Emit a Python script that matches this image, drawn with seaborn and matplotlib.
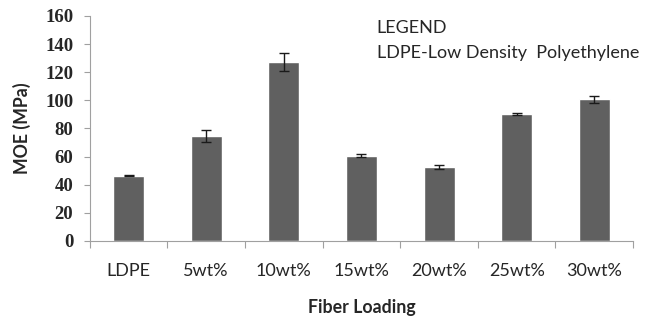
import matplotlib
matplotlib.use("Agg")
import matplotlib.pyplot as plt
import seaborn as sns
import pandas as pd
import numpy as np
from matplotlib.ticker import FixedLocator

categories = ["LDPE", "5wt%", "10wt%", "15wt%", "20wt%", "25wt%", "30wt%"]
moe = [46.4, 74.7, 127.2, 60.6, 52.5, 90.3, 100.8]
err = [0.5, 4.5, 6.3, 1.0, 1.3, 0.4, 2.4]

sns.set_theme(style="white")
plt.rcParams['font.family'] = ['Lato', 'DejaVu Sans']

df = pd.DataFrame({"Fiber Loading": categories, "MOE": moe})

fig = plt.figure(figsize=(6.46, 3.2), dpi=100)
ax = fig.add_axes([0.139, 0.247, 0.841, 0.703])
sns.barplot(data=df, x="Fiber Loading", y="MOE", color="#606060", width=0.4,
            saturation=1, ax=ax, errorbar=None)
ax.errorbar(x=np.arange(len(categories)), y=moe, yerr=err, fmt="none",
            ecolor="#1a1a1a", elinewidth=1.0, capsize=3.5, capthick=1.0)

ax.set_xlim(-0.5, len(categories) - 0.5)
ax.set_ylim(0, 160)
ax.set_yticks(range(0, 161, 20))
ax.tick_params(axis="y", labelsize=13.5, length=4, width=0.8, color="#a0a0a0", left=True, pad=8)
for lab in ax.get_yticklabels():
    lab.set_fontweight("bold")
    lab.set_family(["Liberation Serif", "DejaVu Serif"])
ax.tick_params(axis="x", which="major", length=0, labelsize=13, pad=16)
ax.xaxis.set_minor_locator(FixedLocator(np.arange(-0.5, len(categories), 1.0)))
ax.tick_params(axis="x", which="minor", length=5, width=0.8, color="#a0a0a0", bottom=True)

for side in ["top", "right"]:
    ax.spines[side].set_visible(False)
for side in ["left", "bottom"]:
    ax.spines[side].set_color("#a0a0a0")
    ax.spines[side].set_linewidth(0.8)

ax.set_ylabel("MOE (MPa)", fontsize=12.8, fontweight="bold", labelpad=10)
ax.set_xlabel("Fiber Loading", fontsize=12.8, fontweight="bold", labelpad=14)

ax.text(0.528, 0.948, "LEGEND", transform=ax.transAxes, fontsize=13, va="center", ha="left")
ax.text(0.528, 0.835, "LDPE-Low Density  Polyethylene", transform=ax.transAxes, fontsize=13,
        va="center", ha="left")

fig.savefig("out.png", dpi=100)
